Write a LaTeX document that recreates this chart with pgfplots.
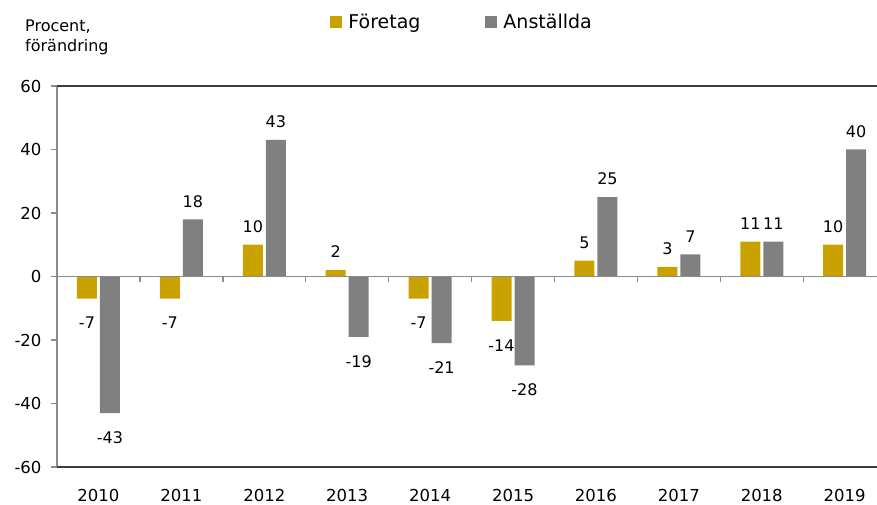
\documentclass[border=0pt]{standalone}
\usepackage{pgfplots}
\pgfplotsset{compat=1.18}
\usepackage{fontspec}
\setmainfont{DejaVu Sans}
\definecolor{gold}{HTML}{C9A200}
\definecolor{bargray}{HTML}{808080}
\definecolor{axgray}{HTML}{8C8C8C}
\definecolor{dark}{HTML}{3C3C3C}
\begin{document}
\begin{tikzpicture}
\begin{axis}[
  scale only axis,
  width=820pt, height=381pt,
  xmin=-0.5, xmax=9.39,
  ymin=-60, ymax=60,
  ytick={-60,-40,...,60},
  ytick pos=left,
  xtick={0,...,9},
  xticklabels={2010,2011,2012,2013,2014,2015,2016,2017,2018,2019},
  /pgf/number format/assume math mode=true,
  ticklabel style={font=\fontsize{16.5}{19}\selectfont, text=black},
  axis line style={draw=none},
  x tick style={draw=none},
  y tick style={draw=axgray, line width=1.4pt},
  tick align=outside,
  major tick length=6pt,
  xticklabel style={yshift=-13pt},
  yticklabel style={xshift=-6pt},
  ybar, bar width=20pt,
  legend columns=2,
  legend style={draw=none, fill=none, font=\fontsize{19}{22}\selectfont,
    at={(axis description cs:0.494,1)}, anchor=center, yshift=64pt,
    /tikz/every even column/.append style={column sep=63pt}},
  legend image code/.code={\fill[#1] (0pt,-6pt) rectangle (12pt,6pt); \path (16pt,0pt);},
  nodes near coords,
  nodes near coords align={vertical},
  every node near coord/.append style={font=\fontsize{16}{19}\selectfont, text=black,
    inner ysep=12pt, inner xsep=1pt, text height=18pt, text depth=0pt},
  clip=false,
]
\addplot[fill=gold, draw=none, bar shift=-11.5pt] coordinates {(0,-7) (1,-7) (2,10) (3,2) (4,-7) (5,-14) (6,5) (7,3) (8,11) (9,10)};
\addplot[fill=bargray, draw=none, bar shift=11.5pt] coordinates {(0,-43) (1,18) (2,43) (3,-19) (4,-21) (5,-28) (6,25) (7,7) (8,11) (9,40)};
\legend{Företag, Anställda}
\draw[axgray, line width=1.4pt] (axis cs:-0.5,0) -- (axis cs:9.39,0);
\pgfplotsinvokeforeach{0.5,1.5,2.5,3.5,4.5,5.5,6.5,7.5,8.5}{ \draw[axgray, line width=1.4pt] (axis cs:#1,0) -- ([yshift=-6pt]axis cs:#1,0); }
\draw[axgray, line width=1.6pt] (rel axis cs:0,0) -- (rel axis cs:0,1);
\draw[dark, line width=1.3pt] (rel axis cs:0,1) -- (rel axis cs:1,1);
\draw[dark, line width=1.3pt] (rel axis cs:0,0) -- (rel axis cs:1,0);
\node[anchor=base west, font=\fontsize{16}{19}\selectfont, inner sep=0pt] at ([xshift=-32pt,yshift=54pt]rel axis cs:0,1) {Procent,};
\node[anchor=base west, font=\fontsize{16}{19}\selectfont, inner sep=0pt] at ([xshift=-32pt,yshift=34pt]rel axis cs:0,1) {förändring};
\end{axis}
\pgfresetboundingbox
\path ([xshift=-57pt,yshift=-38pt]current axis.south west) rectangle ([yshift=86pt]current axis.north east);
\end{tikzpicture}
\end{document}
